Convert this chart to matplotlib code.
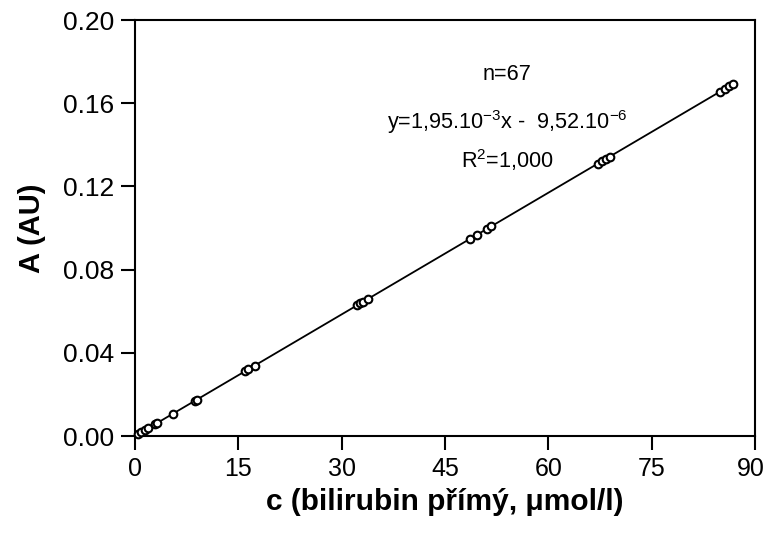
import matplotlib
matplotlib.use("Agg")
import matplotlib.pyplot as plt
import matplotlib.transforms as mtransforms
import numpy as np

plt.rcParams['font.family'] = ['Liberation Sans', 'DejaVu Sans']
plt.rcParams['mathtext.fontset'] = 'custom'
plt.rcParams['mathtext.rm'] = 'Liberation Sans'

# Data
conc = [0.44, 0.87, 1.45, 1.9, 2.9, 3.2, 5.5, 8.7, 9.0,
        16.0, 16.4, 17.4, 32.2, 32.7, 33.1, 33.8,
        48.6, 49.6, 51.1, 51.7, 67.2, 67.8, 68.4, 68.9,
        84.9, 85.6, 86.2, 86.8]
absorb = [0.0009, 0.0017, 0.0028, 0.0037, 0.0056, 0.0062, 0.0107, 0.0170, 0.0175,
          0.0312, 0.0320, 0.0339, 0.0628, 0.0638, 0.0645, 0.0659,
          0.0948, 0.0967, 0.0996, 0.1008, 0.1310, 0.1322, 0.1334, 0.1343,
          0.1655, 0.1669, 0.1681, 0.1692]
fit_x = [0.0, 86.8]
fit_y = [-0.0000095, 0.1692]

xticks = [0, 15, 30, 45, 60, 75, 90]
yticks = [0.00, 0.04, 0.08, 0.12, 0.16, 0.20]
ytick_labels = ["0.00", "0.04", "0.08", "0.12", "0.16", "0.20"]

fig = plt.figure(figsize=(7.66, 5.35), dpi=100)
ax = fig.add_axes([0.1762, 0.185, 0.8094, 0.7776])

ax.plot(fit_x, fit_y, color='black', lw=1.3, zorder=2)
ax.plot(conc, absorb, 'o', mfc='white', mec='black', mew=1.5, ms=5.5,
        zorder=3, clip_on=False)

ax.set_xlim(0, 90)
ax.set_ylim(0, 0.20)
ax.set_xticks(xticks)
ax.set_xticklabels([str(t) for t in xticks])
ax.set_yticks(yticks)
ax.set_yticklabels(ytick_labels)
ax.tick_params(axis='both', direction='out', length=10, width=1.5,
               labelsize=19, pad=5, top=False, right=False)
ax.tick_params(axis='x', labelsize=18)
for s in ax.spines.values():
    s.set_linewidth(1.5)

# keep the last x tick label inside the figure
last = ax.get_xticklabels()[-1]
last.set_transform(last.get_transform() +
                   mtransforms.ScaledTranslation(-4 / 100, 0, fig.dpi_scale_trans))

ax.set_xlabel("c (bilirubin přímý, μmol/l)", fontsize=21.5, fontweight='bold', labelpad=5)
ax.set_ylabel("A (AU)", fontsize=21, fontweight='bold', labelpad=12)

tx = (507 - 135) / 620 * 90
fs = 15.6
ax.text(tx, 0.1736, "n=67", ha='center', va='center', fontsize=fs)
ax.text(tx, 0.1510, r"y=1,95.10$^{-3}$x -  9,52.10$^{-6}$", ha='center', va='center',
        fontsize=fs)
ax.text(tx, 0.1327, r"R$^{2}$=1,000", ha='center', va='center', fontsize=fs)

fig.savefig("out.png", dpi=100)
